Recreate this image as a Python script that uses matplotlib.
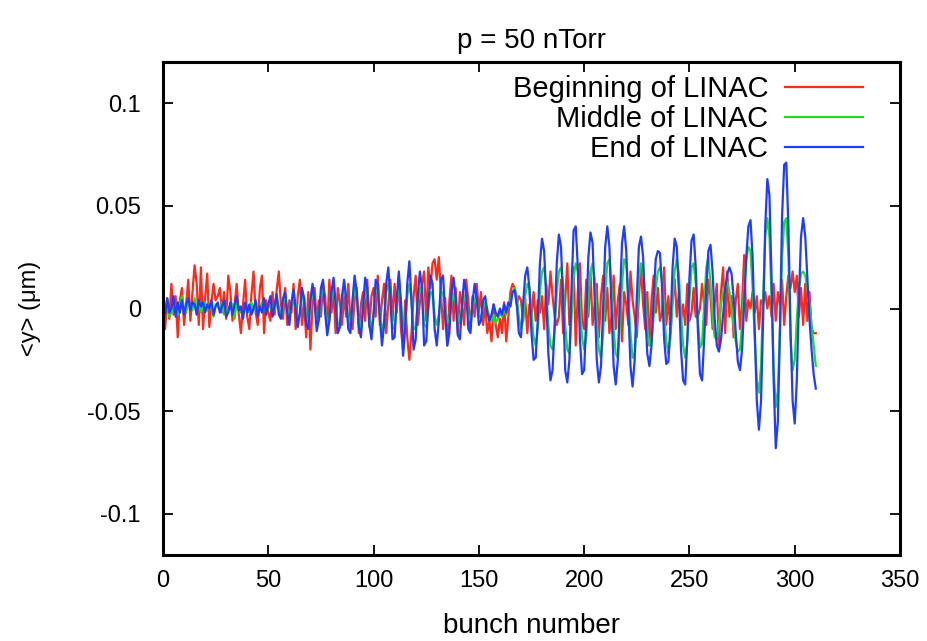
import numpy as np
import matplotlib
matplotlib.use("Agg")
import matplotlib.pyplot as plt

plt.rcParams['font.family'] = ['Liberation Sans', 'DejaVu Sans']

# ---------------- data (values in units of 1e-3 um) ----------------
beginning_milli = [
    8, -10, 5, -5, 12, -3, 6, -14, 4, 10,
    -8, 2, 14, -6, 8, 21, 12, -8, 20, -10,
    5, 17, -9, 3, 12, 4, 6, 10, -2, 8,
    -5, 16, 8, -6, 2, 12, -3, -12, 2, 14,
    -4, -10, 7, 18, -2, -8, 10, 16, -12, 4,
    -2, -6, 8, -3, 9, 18, 2, -5, 10, -8,
    4, -2, 12, -10, 6, 14, -8, 3, -14, 8,
    -20, 2, 10, -6, 4, -4, 12, 6, -10, 14,
    -2, 8, -12, 10, 3, -8, 6, -4, 12, -6,
    -10, 4, 10, -12, 2, 8, -6, 14, -9, 6,
    10, -4, 16, -8, 4, 12, -12, 2, 14, -6,
    12, -2, 16, -10, -20, 4, -14, -25, -12, 6,
    16, -8, 3, 12, 18, -6, 20, 10, 22, 24,
    14, 25, 8, -10, 5, -18, 4, 16, -6, 10,
    -12, 8, 2, -8, 14, 4, -10, 6, -4, 12,
    -2, 8, -8, 2, -12, -6, -16, 2, -8, -14,
    -5, -12, 3, -16, -4, 8, 12, 10, 2, 6,
    4, -6, 5, -12, 2, -4, 8, -6, 4, -2,
    6, -10, 12, 2, 18, 6, -4, -8, -4, 14,
    -12, 4, 22, -8, 2, 20, -18, 8, 22, -6,
    -10, 14, -4, 18, -8, 2, 12, -14, 6, 16,
    -6, 10, -12, -4, 16, -10, 4, 12, -16, 8,
    2, -8, 18, 4, -4, -14, 6, 20, 2, -10,
    8, -18, 4, 16, -2, 10, -6, -2, 20, -8,
    6, -12, 4, 14, -4, 8, -6, 2, -8, 12,
    -6, -2, 10, -4, -4, 0, 12, 2, -8, 14,
    6, -10, 2, 12, -18, 8, 20, -12, 18, -4,
    6, -14, 4, 12, -10, 2, 26, -6, 4, 0,
    8, -2, 6, -10, 4, 2, 8, 0, 6, -4,
    12, -6, 8, 2, 14, -8, 6, 16, 10, 18,
    8, 16, -4, 10, -8, 12, -6, 8, -10, -12,
    -12,
]

middle_milli = [
    3, 0, 4, -4, -2, 3, 1, -3, 2, 6,
    0, -2, 3, 1, -1, 5, 0, 2, -2, 1,
    3, -1, 2, 0, -4, 2, 1, -1, 3, -3,
    -2, 1, 0, 2, -5, 3, 1, -2, -3, 2,
    0, -2, 3, -1, 2, -2, 0, 3, 1, -2,
    0, 4, -2, -1, 5, 1, -4, 2, 6, 0,
    -5, 1, 6, 2, -6, -3, 5, 6, -4, -7,
    2, 8, 3, -8, -6, 6, 9, 1, -9, -6,
    5, 10, 3, -8, -7, 4, 10, 5, -6, -9,
    2, 10, 6, -6, -10, 0, 10, 8, -5, -10,
    -2, 9, 9, -3, -11, -6, 8, 12, 4, -9,
    -10, 3, 11, 4, -12, -8, 6, 12, 4, -10,
    -10, 3, 10, 7, -8, -9, 0, 8, 7, -4,
    -8, -3, 6, 8, 0, -7, -6, 3, 7, 3,
    -5, -7, 0, 6, 5, -3, -6, 0, 5, 3,
    -3, -5, 0, 3, 0, -4, -6, -3, -7, -5,
    -2, -4, 0, -3, 2, 4, 8, 10, 6, -4,
    -10, -6, 6, 12, 10, -2, -14, -18, -10, 8,
    18, 20, 10, -8, -18, -20, -10, 8, 18, 20,
    12, -8, -20, -22, -5, 15, 22, 18, 2, -14,
    -20, -14, 5, 18, 22, 14, -6, -20, -24, -12,
    8, 22, 24, 10, -10, -22, -24, -8, 12, 24,
    22, 6, -12, -24, -22, -5, 14, 22, 20, 6,
    -10, -18, -16, -4, 10, 18, 20, 14, -2, -16,
    -22, -14, 4, 18, 24, 16, -2, -18, -24, -16,
    4, 20, 22, 12, -6, -19, -17, 2, 20, 25,
    12, -4, -14, -15, -8, 2, 8, 12, 13, 8,
    0, -8, -16, -21, -20, -8, 10, 24, 30, 28,
    10, -15, -35, -41, -28, 5, 35, 44, 35, 5,
    -30, -48, -40, -10, 25, 42, 44, 25, -15, -30,
    -25, -5, 10, 17, 18, 16, 10, 2, -8, -18,
    -28,
]

end_milli = [
    2, -3, 5, -2, 0, 6, -4, 3, -2, 4,
    -3, 2, 5, -1, 3, 2, -3, 4, 1, 3,
    -2, 2, 0, 4, -3, 1, 3, -2, 1, 4,
    -4, -2, 3, -3, 2, 6, -1, 1, -5, 3,
    -2, 2, -3, 0, 4, -4, 1, -2, 5, -3,
    2, 6, -4, 1, 7, -3, -5, 5, 8, -2,
    -8, 3, 9, 0, -9, -2, 10, 5, -8, -10,
    4, 12, 3, -11, -5, 10, 14, -2, -13, -6,
    8, 15, 2, -12, -9, 6, 14, 5, -10, -12,
    4, 16, 8, -9, -14, 0, 15, 10, -8, -15,
    -3, 14, 12, -5, -18, -8, 12, 20, 5, -15,
    -14, 5, 18, 3, -23, -10, 12, 23, 4, -20,
    -15, 6, 18, 10, -18, -16, 2, 16, 12, -10,
    -18, -6, 14, 16, -2, -18, -12, 8, 15, 5,
    -13, -15, 2, 14, 8, -10, -12, 3, 12, 5,
    -8, -6, 4, 6, -2, -6, -3, 2, -2, -4,
    0, -3, 2, -2, 3, 1, 8, 9, 2, -12,
    -14, 2, 16, 20, 10, -12, -25, -24, -5, 22,
    34, 28, 5, -22, -35, -30, -8, 22, 36, 30,
    5, -30, -36, -25, 10, 38, 40, 20, -15, -32,
    -30, -5, 25, 37, 32, 5, -25, -36, -28, 0,
    30, 40, 30, 0, -28, -37, -25, 5, 32, 40,
    28, 0, -28, -38, -25, 5, 30, 35, 25, -2,
    -22, -28, -18, 5, 24, 28, 27, 10, -15, -27,
    -26, -8, 20, 34, 30, 8, -20, -35, -37, -15,
    15, 33, 36, 20, -10, -32, -35, -15, 10, 28,
    31, 18, -5, -18, -21, -15, -3, 10, 17, 20,
    17, 5, -12, -26, -30, -20, 2, 25, 40, 43,
    25, -10, -45, -59, -45, -5, 40, 63, 55, 15,
    -35, -68, -55, -10, 45, 70, 71, 40, -10, -45,
    -56, -35, 5, 35, 44, 35, 15, -5, -20, -32,
    -39,
]

series_labels = ['Beginning of LINAC', 'Middle of LINAC', 'End of LINAC']
x_ticks = [0, 50, 100, 150, 200, 250, 300, 350]
y_ticks = [-0.1, -0.05, 0, 0.05, 0.1]
y_tick_labels = ['-0.1', '-0.05', '0', '0.05', '0.1']
title_text = 'p = 50 nTorr'
x_label = 'bunch number'
y_label = '<y> (\u03bcm)'

# ---------------- plotting ----------------
bunch = np.arange(len(end_milli))
beginning = np.array(beginning_milli) / 1000.0
middle = np.array(middle_milli) / 1000.0
end = np.array(end_milli) / 1000.0

W, H = 928, 641
fig = plt.figure(figsize=(W / 100, H / 100), dpi=100)
L, R, T, B = 163, 900, 62, 555
ax = fig.add_axes([L / W, 1 - B / H, (R - L) / W, (B - T) / H])

colors = ['#ff2a1a', '#1ee01e', '#1f3cff']
for yv, c, lab in zip([beginning, middle, end], colors, series_labels):
    ax.plot(bunch, yv, color=c, lw=1.6, label=lab)

ax.set_xlim(0, 350)
ax.set_ylim(-0.12, 0.12)
ax.set_xticks(x_ticks)
ax.set_yticks(y_ticks)
ax.set_yticklabels(y_tick_labels)
ax.tick_params(direction='in', length=7, width=1.3, top=True, right=True,
               labelsize=17, colors='black')
ax.tick_params(axis='x', pad=11)
ax.tick_params(axis='y', pad=16)
for s in ax.spines.values():
    s.set_linewidth(2.2)

ax.set_title(title_text, fontsize=20, pad=10)
ax.set_xlabel(x_label, fontsize=20)
ax.set_ylabel(y_label, fontsize=17)
ax.xaxis.set_label_coords(0.5, -0.118)
ax.yaxis.set_label_coords(-0.165, 0.5)

leg = ax.legend(loc='upper right', bbox_to_anchor=(0.95, 0.974), frameon=False,
                markerfirst=False, fontsize=21, handlelength=2.67,
                handletextpad=0.58, labelspacing=0.07, borderaxespad=0,
                borderpad=0)

fig.savefig('out.png', dpi=100)
